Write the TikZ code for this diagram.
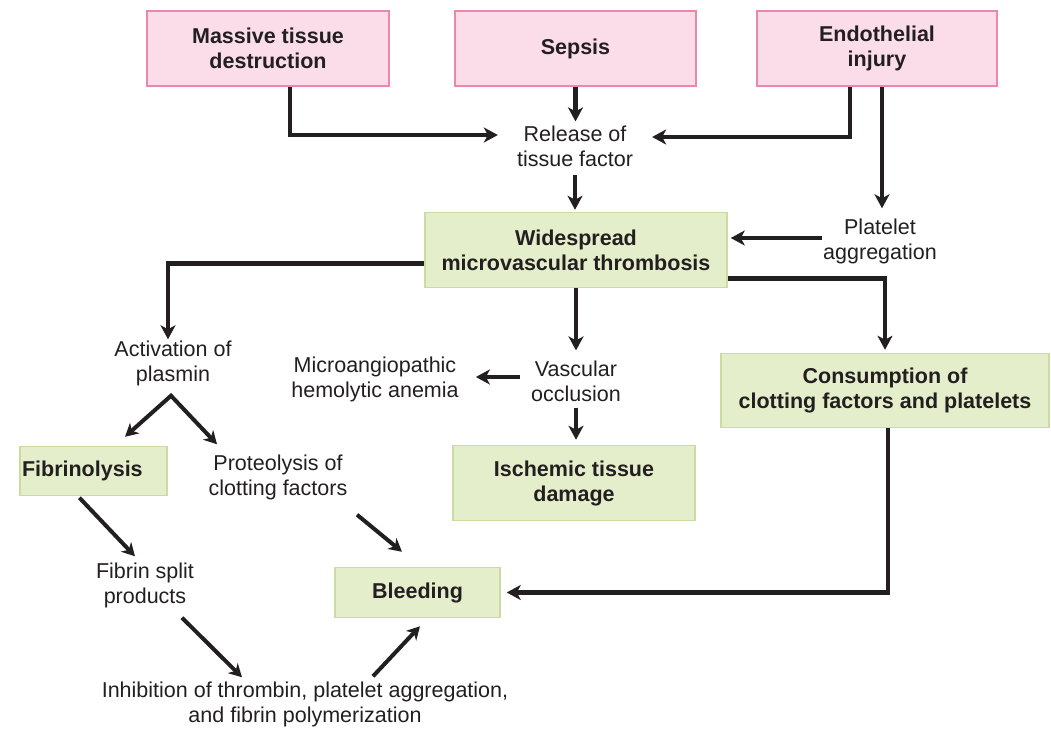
\documentclass[tikz,border=0pt]{standalone}
\usepackage{fontspec}
\setmainfont{Liberation Sans}
\usetikzlibrary{arrows.meta}
\definecolor{pinkfill}{RGB}{251,221,234}
\definecolor{pinkline}{RGB}{234,135,172}
\definecolor{greenfill}{RGB}{229,238,203}
\definecolor{greenline}{RGB}{203,221,158}
\definecolor{ink}{RGB}{35,31,32}
\begin{document}
\begin{tikzpicture}[x=1pt,y=-1pt,
  every node/.style={font=\fontsize{21.5}{25}\selectfont, text=ink, inner sep=0pt, align=center},
  pinkbox/.style={draw=pinkline, fill=pinkfill, line width=1.5pt, font=\fontsize{21.5}{25}\selectfont\bfseries},
  greenbox/.style={draw=greenline, fill=greenfill, line width=1.5pt, font=\fontsize{21.5}{25}\selectfont\bfseries},
  arr/.style={draw=ink, line width=4.5pt, -{Stealth[length=14pt,width=15pt,inset=4pt]}},
  darr/.style={draw=ink, line width=4pt, -{Stealth[length=13pt,width=14pt,inset=4pt]}},
  forkarr/.style={draw=ink, line width=4pt, miter limit=20, {Stealth[length=13pt,width=14pt,inset=4pt]}-{Stealth[length=13pt,width=14pt,inset=4pt]}}
]
\useasboundingbox (0,0) rectangle (1051,730);

% top boxes
\node[pinkbox, minimum width=242pt, minimum height=75pt] (massive) at (268,48.5) {Massive tissue\\destruction};
\node[pinkbox, minimum width=241pt, minimum height=75pt] (sepsis) at (575.5,48.5) {Sepsis};
\node[pinkbox, minimum width=240pt, minimum height=75pt] (endo) at (877,48.5) {Endothelial\\injury};

\node (release) at (575,146) {Release of\\tissue factor};
\node (platelet) at (880,241) {Platelet\\aggregation};

\node[greenbox, minimum width=302pt, minimum height=75pt] (wide) at (576,250) {Widespread\\microvascular thrombosis};

\node (activation) at (173,363) {Activation of\\plasmin};
\node (micro) at (375,379) {Microangiopathic\\hemolytic anemia};
\node (vascular) at (576,381) {Vascular\\occlusion};
\node[greenbox, minimum width=328pt, minimum height=74pt] (consumption) at (885,390.5) {Consumption of\\clotting factors and platelets};

\node[greenbox, minimum width=147pt, minimum height=49pt, text width=147pt, align=left] (fibrinolysis) at (93.5,471) {\hspace*{2pt}Fibrinolysis};
\node (proteolysis) at (278,477) {Proteolysis of\\clotting factors};
\node[greenbox, minimum width=242pt, minimum height=75pt] (ischemic) at (574,483) {Ischemic tissue\\damage};

\node (fibrin) at (145,585) {Fibrin split\\products};
\node[greenbox, minimum width=165pt, minimum height=50pt] (bleeding) at (417.5,592.5) {Bleeding};
\node (inhibition) at (305,704) {Inhibition of thrombin, platelet aggregation,\\and fibrin polymerization};

\coordinate (apex) at ([xshift=-2pt,yshift=-10pt]activation.south);

% connectors
\draw[arr] ([xshift=22pt]massive.south) |- ([xshift=-19pt,yshift=11pt]release.west);
\draw[arr, shorten >=4pt] (sepsis.south) -- (sepsis.south |- release.north);
\draw[arr] ([xshift=-27pt]endo.south) |- ([xshift=19pt,yshift=9pt]release.east);
\draw[arr, shorten <=8pt, shorten >=2pt] (release.south) -- (release.south |- wide.north);
\draw[arr, shorten >=10pt] ([xshift=5pt]endo.south) -- ([xshift=5pt]endo.south |- platelet.north);
\draw[arr, shorten <=1pt, shorten >=3pt] ([yshift=3pt]platelet.west) -- ([yshift=3pt]platelet.west -| wide.east);

\draw[arr, shorten >=1pt] ([yshift=-13.5pt]wide.west) -| ([xshift=-5pt]activation.north);
\draw[arr, shorten >=10pt] (wide.south) -- (wide.south |- vascular.north);
\draw[arr, shorten >=3pt] ([yshift=-28.5pt]wide.east) -| (consumption.north);

\draw[arr, shorten <=11pt, shorten >=17pt] ([yshift=4pt]vascular.west) -- ([yshift=4pt]vascular.west -| micro.east);
\draw[arr, shorten <=6pt, shorten >=5pt] (vascular.south) -- (vascular.south |- ischemic.north);

\draw[forkarr] ([xshift=31.5pt,yshift=9pt]fibrinolysis.north) -- (apex) -- ([xshift=-61pt,yshift=10pt]proteolysis.north);

\draw[darr, shorten <=2pt] ([xshift=-15.5pt]fibrinolysis.south) -- ([xshift=-10pt,yshift=6pt]fibrin.north);
\draw[darr] ([xshift=79pt,yshift=-15pt]proteolysis.south) -- ([xshift=-15.5pt,yshift=15pt]bleeding.north);
\draw[darr] ([xshift=37pt,yshift=-10pt]fibrin.south) -- ([xshift=-63pt,yshift=4pt]inhibition.north);
\draw[darr] ([xshift=68pt,yshift=5pt]inhibition.north) -- ([xshift=2.5pt,yshift=-8pt]bleeding.south);

\draw[arr, shorten >=6pt] ([xshift=3pt]consumption.south) |- (bleeding.east);
\end{tikzpicture}
\end{document}
